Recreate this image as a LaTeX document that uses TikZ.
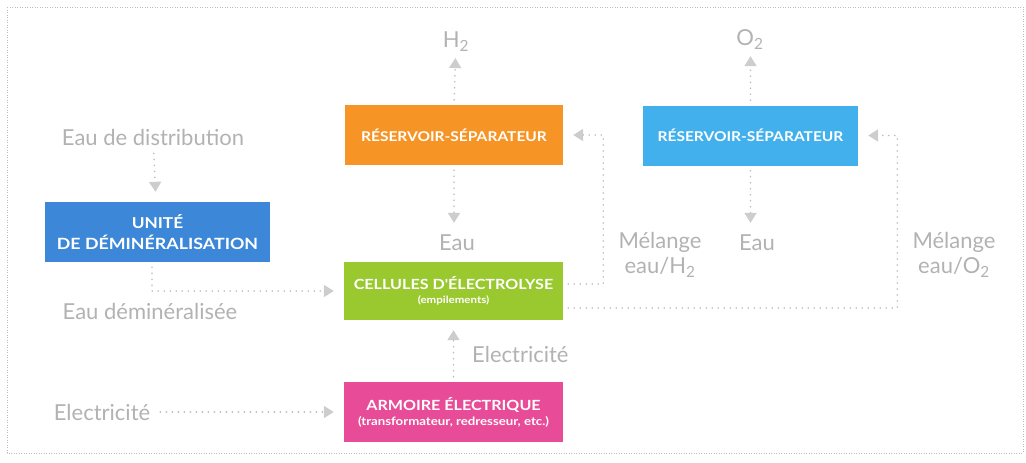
\documentclass[tikz,border=0pt]{standalone}
\usepackage{fontspec}
\setmainfont{Lato}
\newfontfamily\boxfont{Lato}[FakeStretch=1.15]
\usetikzlibrary{arrows.meta}
\definecolor{txtgray}{RGB}{178,178,178}
\definecolor{dotgray}{RGB}{188,188,188}
\definecolor{tipgray}{RGB}{205,205,205}
\definecolor{cOrange}{RGB}{247,148,38}
\definecolor{cLight}{RGB}{66,176,236}
\definecolor{cBlue}{RGB}{60,135,215}
\definecolor{cGreen}{RGB}{153,201,46}
\definecolor{cPink}{RGB}{232,76,152}
\newcommand\fs[1]{\fontsize{#1}{#1}\selectfont}
\tikzset{
  box/.style={fill=#1, text=white, inner sep=0pt, align=center, font=\boxfont\bfseries},
  lbl/.style={text=txtgray, inner sep=0pt, align=center, font=\fontsize{22}{25}\selectfont},
  flow/.style={draw=dotgray, line width=1.8pt, line cap=round, dash pattern=on 0pt off 6pt,
    -{Triangle[width=12pt,length=10pt,fill=tipgray,color=tipgray]}},
  frame/.style={draw=dotgray, line width=0.7pt, dash pattern=on 1pt off 1.5pt}
}
\begin{document}
\begin{tikzpicture}[x=1pt,y=-1pt]
\useasboundingbox (0,0) rectangle (1026,463);
\draw[frame] (7,7) rectangle (1023,453);

% boxes
\node[box=cBlue, minimum width=225pt, minimum height=60pt] (unite) at (157.5,232)
  {\fs{15}UNITÉ\\[5pt] \fs{15.5}DE DÉMINÉRALISATION};
\node[box=cOrange, minimum width=218pt, minimum height=60pt] (resH) at (454,135)
  {\fs{13.5}RÉSERVOIR-SÉPARATEUR};
\node[box=cLight, minimum width=215pt, minimum height=60pt] (resO) at (750.5,135.5)
  {\fs{13.5}RÉSERVOIR-SÉPARATEUR};
\node[box=cGreen, minimum width=219pt, minimum height=58pt] (cell) at (453.5,291)
  {\fs{14}CELLULES D'ÉLECTROLYSE\\[2pt] \fs{10}(empilements)};
\node[box=cPink, minimum width=219pt, minimum height=60pt] (arm) at (453.5,412)
  {\fs{14}ARMOIRE ÉLECTRIQUE\\[3pt] \fs{11.5}(transformateur, redresseur, etc.)};

% labels
\node[lbl] (dist) at (153,137) {Eau de distribution};
\node[lbl] (h2) at (456,42) {H\textsubscript{2}};
\node[lbl] (o2) at (750,40) {O\textsubscript{2}};
\node[lbl] (eau1) at (457,243) {Eau};
\node[lbl] (eau2) at (757,243) {Eau};
\node[lbl] (melH) at (660,255) {Mélange\\ eau/H\textsubscript{2}};
\node[lbl] (melO) at (954,255) {Mélange\\ eau/O\textsubscript{2}};
\node[lbl] (demin) at (150,311) {Eau déminéralisée};
\node[lbl, anchor=west] (elecM) at (472,354) {Electricité};
\node[lbl] (elecL) at (102,412) {Electricité};

% connectors
\draw[flow, shorten <=8pt, shorten >=10pt] (dist) -- (unite);
\draw[flow, shorten <=5pt, shorten >=6pt] (resH.north) -- (h2);
\draw[flow, shorten <=5pt, shorten >=12pt] (resH.south) -- (eau1.north -| resH.south);
\draw[flow, shorten <=5pt, shorten >=6pt] (resO.north) -- (o2.south -| resO.north);
\draw[flow, shorten <=5pt, shorten >=12pt] (resO.south) -- (eau2.north -| resO.south);
\draw[flow, shorten <=5pt, shorten >=10pt] (unite.south -| 152,0) |- (cell.west);
\draw[flow, shorten <=5pt, shorten >=10pt] (arm.north) -- (cell.south);
\draw[flow, shorten <=10pt, shorten >=10pt] (elecL.east) -- (arm.west);
\draw[flow, shorten <=5pt, shorten >=10pt] ([yshift=7pt]cell.east) -- ++(40,0) |- (resH.east);
\draw[flow, shorten <=5pt, shorten >=10pt] ([yshift=-17pt]cell.east) -- ++(334,0) |- (resO.east);
\end{tikzpicture}
\end{document}
